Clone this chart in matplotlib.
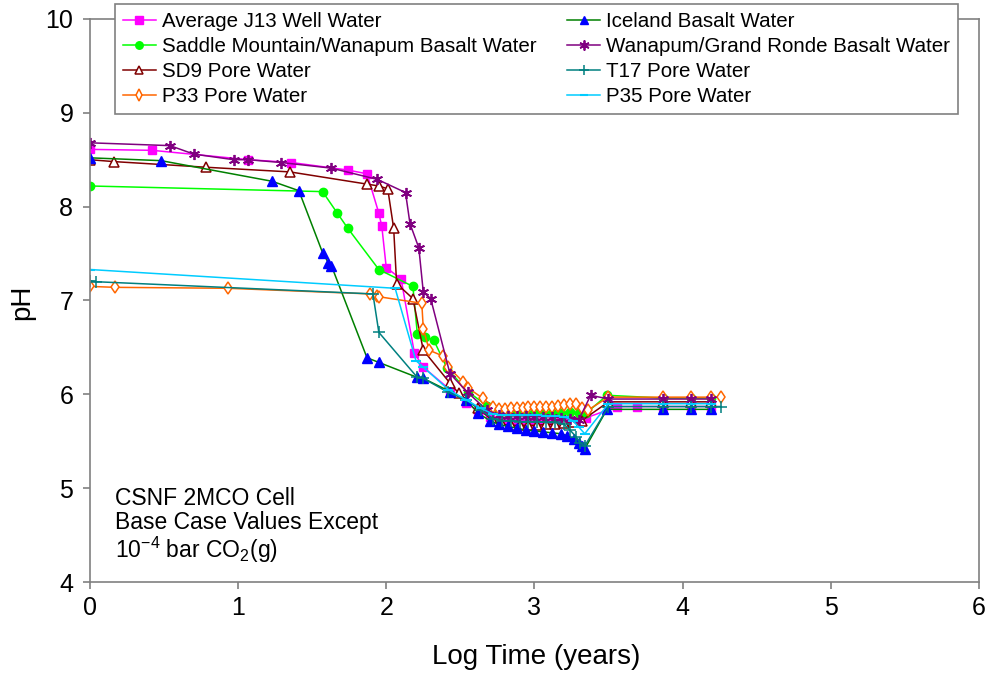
import matplotlib
matplotlib.use('Agg')
import matplotlib.pyplot as plt

plt.rcParams['font.family'] = ['Liberation Sans', 'DejaVu Sans']
plt.rcParams['mathtext.fontset'] = 'custom'
plt.rcParams['mathtext.rm'] = 'Liberation Sans'

# Log time (years) and pH for each water
j13_x = [0, 0.42, 1.07, 1.36, 1.74, 1.87, 1.95, 1.97, 2.00, 2.10, 2.19, 2.25, 2.43, 2.54, 2.62, 2.70,
         2.76, 2.82, 2.88, 2.94, 3.00, 3.06, 3.12, 3.18, 3.24, 3.30, 3.35, 3.56, 3.69, 3.87, 4.06, 4.19]
j13_ph = [8.61, 8.60, 8.50, 8.47, 8.39, 8.35, 7.93, 7.79, 7.35, 7.23, 6.44, 6.29, 6.05, 5.91, 5.82, 5.76,
          5.72, 5.70, 5.70, 5.70, 5.70, 5.69, 5.69, 5.70, 5.70, 5.72, 5.75, 5.87, 5.87, 5.87, 5.87, 5.87]

saddle_x = [0, 1.57, 1.67, 1.74, 1.95, 2.18, 2.21, 2.26, 2.32, 2.41, 2.55, 2.68, 2.76, 2.82, 2.88, 2.94,
            3.00, 3.06, 3.12, 3.18, 3.24, 3.30, 3.35, 3.49, 3.87, 4.06, 4.19]
saddle_ph = [8.22, 8.16, 7.93, 7.77, 7.33, 7.15, 6.64, 6.61, 6.58, 6.28, 6.03, 5.88, 5.82, 5.80, 5.80, 5.80,
             5.80, 5.80, 5.80, 5.80, 5.81, 5.80, 5.80, 5.99, 5.96, 5.96, 5.96]

sd9_x = [0, 0.16, 0.78, 1.35, 1.87, 1.95, 2.01, 2.05, 2.07, 2.18, 2.25, 2.43, 2.49, 2.62, 2.72, 2.78,
         2.84, 2.90, 2.96, 3.02, 3.08, 3.14, 3.20, 3.26, 3.32, 3.50, 3.87, 4.06, 4.19]
sd9_ph = [8.50, 8.48, 8.42, 8.37, 8.24, 8.22, 8.19, 7.77, 7.18, 7.02, 6.47, 6.12, 6.01, 5.85, 5.72, 5.68,
          5.67, 5.67, 5.67, 5.67, 5.68, 5.68, 5.69, 5.70, 5.72, 5.92, 5.92, 5.92, 5.92]

p33_x = [0, 0.17, 0.93, 1.89, 1.94, 1.95, 2.24, 2.25, 2.29, 2.38, 2.42, 2.52, 2.55, 2.65, 2.72, 2.76,
         2.80, 2.84, 2.88, 2.92, 2.96, 3.00, 3.04, 3.08, 3.12, 3.16, 3.20, 3.24, 3.28, 3.32, 3.36, 3.50,
         3.87, 4.06, 4.19, 4.26]
p33_ph = [7.15, 7.14, 7.13, 7.07, 7.05, 7.04, 6.97, 6.70, 6.47, 6.41, 6.29, 6.13, 6.07, 5.96, 5.87, 5.84,
          5.84, 5.85, 5.85, 5.85, 5.86, 5.86, 5.86, 5.87, 5.87, 5.88, 5.89, 5.90, 5.90, 5.85, 5.83, 5.97,
          5.97, 5.97, 5.97, 5.97]

iceland_x = [0, 0.48, 1.23, 1.41, 1.57, 1.61, 1.63, 1.87, 1.95, 2.21, 2.25, 2.43, 2.54, 2.62, 2.70, 2.76,
             2.82, 2.88, 2.94, 3.00, 3.06, 3.12, 3.18, 3.22, 3.27, 3.30, 3.32, 3.34, 3.49, 3.87, 4.06, 4.19]
iceland_ph = [8.52, 8.49, 8.27, 8.17, 7.51, 7.40, 7.37, 6.39, 6.34, 6.18, 6.17, 6.03, 5.94, 5.80, 5.72, 5.68,
              5.66, 5.64, 5.62, 5.61, 5.60, 5.59, 5.58, 5.56, 5.52, 5.48, 5.45, 5.42, 5.84, 5.84, 5.84, 5.84]

wanapum_x = [0, 0.54, 0.70, 0.97, 1.07, 1.29, 1.63, 1.94, 2.13, 2.16, 2.22, 2.25, 2.30, 2.43, 2.55, 2.68,
             2.76, 2.82, 2.88, 2.94, 3.00, 3.06, 3.12, 3.18, 3.24, 3.30, 3.38, 3.50, 3.87, 4.06, 4.19]
wanapum_ph = [8.68, 8.65, 8.56, 8.50, 8.50, 8.47, 8.41, 8.29, 8.15, 7.82, 7.56, 7.09, 7.02, 6.22, 6.02, 5.83,
              5.78, 5.77, 5.77, 5.77, 5.76, 5.76, 5.76, 5.75, 5.74, 5.73, 5.99, 5.95, 5.95, 5.95, 5.95]

t17_x = [0, 0.04, 1.91, 1.95, 2.21, 2.25, 2.42, 2.54, 2.64, 2.72, 2.78, 2.84, 2.90, 2.96, 3.02, 3.08,
         3.14, 3.20, 3.24, 3.28, 3.31, 3.34, 3.50, 3.87, 4.06, 4.19, 4.26]
t17_ph = [7.21, 7.20, 7.07, 6.66, 6.18, 6.17, 6.02, 5.94, 5.83, 5.74, 5.72, 5.72, 5.71, 5.71, 5.71, 5.70,
          5.70, 5.68, 5.62, 5.55, 5.48, 5.45, 5.87, 5.87, 5.87, 5.87, 5.87]

p35_x = [0, 2.06, 2.20, 2.25, 2.42, 2.54, 2.64, 2.72, 2.78, 2.84, 2.90, 2.96, 3.02, 3.08, 3.14, 3.20,
         3.26, 3.30, 3.34, 3.50, 3.87, 4.06, 4.19]
p35_ph = [7.33, 7.13, 6.36, 6.29, 6.05, 5.94, 5.85, 5.79, 5.78, 5.78, 5.78, 5.78, 5.78, 5.77, 5.77, 5.76,
          5.72, 5.65, 5.58, 5.90, 5.90, 5.90, 5.90]

fig = plt.figure(figsize=(9.92, 6.76), dpi=100)
ax = fig.add_axes([0.0907, 0.139, 0.896, 0.833])

ax.plot(j13_x, j13_ph, color='#FF00FF', marker='s', ms=6, lw=1.1,
        label='Average J13 Well Water')
ax.plot(saddle_x, saddle_ph, color='#00FF00', marker='o', ms=6, lw=1.1,
        label='Saddle Mountain/Wanapum Basalt Water')
ax.plot(sd9_x, sd9_ph, color='#800000', marker='^', ms=6.5, mfc='white', mew=1.1, lw=1.1,
        label='SD9 Pore Water')
ax.plot(p33_x, p33_ph, color='#FF6600', marker='d', ms=6.5, mfc='white', mew=1.1, lw=1.1,
        label='P33 Pore Water')
ax.plot(iceland_x, iceland_ph, color='#008000', marker='^', ms=6.5, mfc='#0000FF', mec='#0000FF', lw=1.1,
        label='Iceland Basalt Water')
ax.plot(wanapum_x, wanapum_ph, color='#800080', marker=(6, 2, 0), ms=8, mew=1.3, lw=1.1,
        label='Wanapum/Grand Ronde Basalt Water')
ax.plot(t17_x, t17_ph, color='#008080', marker='+', ms=8, mew=1.1, lw=1.1,
        label='T17 Pore Water')
ax.plot(p35_x, p35_ph, color='#00CCFF', marker='_', ms=7, mew=1.5, lw=1.1,
        label='P35 Pore Water')

ax.set_xlim(0, 6)
ax.set_ylim(4, 10)
ax.set_xticks(range(0, 7))
ax.set_yticks(range(4, 11))

for side in ['left', 'right', 'top', 'bottom']:
    ax.spines[side].set_color('#808080')
    ax.spines[side].set_linewidth(1.2)
ax.tick_params(direction='out', length=5, width=1.2, color='#808080', labelsize=18)
ax.tick_params(axis='y', pad=7)
ax.tick_params(axis='x', pad=5)

fig.text(0.541, 0.028, 'Log Time (years)', fontsize=20, ha='center', va='center')
fig.text(0.022, 0.553, 'pH', fontsize=20, ha='center', va='center', rotation=90)

ax.text(0.17, 5.01, 'CSNF 2MCO Cell\nBase Case Values Except\n'
        r'10$^{\mathregular{-4}}$ bar CO$_{\mathregular{2}}$(g)',
        fontsize=16.5, ha='left', va='top', linespacing=1.03)

leg = ax.legend(ncol=2, loc='upper left', bbox_to_anchor=(0.116, 0.994),
                bbox_transform=fig.transFigure, fontsize=14.8, frameon=True,
                fancybox=False, framealpha=1, edgecolor='#808080',
                handlelength=1.6, handletextpad=0.3, columnspacing=1.5,
                labelspacing=0.29, borderpad=0.38, borderaxespad=0, markerscale=0.9)
leg.get_frame().set_linewidth(1.2)

fig.savefig('out.png', dpi=100)
